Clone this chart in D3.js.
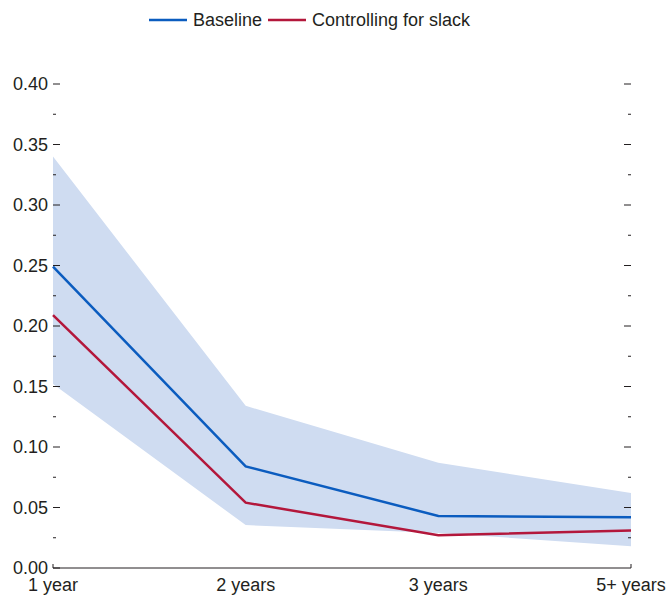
<!DOCTYPE html>
<html>
<head>
<meta charset="utf-8">
<script src="https://cdn.jsdelivr.net/npm/d3@7"></script>
<style>
  body { margin: 0; background: #fff; }
  text { font-family: "Liberation Sans Narrow", "Arial Narrow", sans-serif; fill: #231f20; }
</style>
</head>
<body>
<svg id="chart"></svg>
<script>
var width = 668,
    height = 599,
    margin = {top: 84, right: 37, bottom: 31, left: 53},
    innerW = width - margin.left - margin.right,
    innerH = height - margin.top - margin.bottom;

var horizons = ['1 year', '2 years', '3 years', '5+ years'];
var baseline = [0.249, 0.084, 0.043, 0.042];
var slack = [0.209, 0.054, 0.027, 0.031];
var bandUpper = [0.340, 0.134, 0.087, 0.062];
var bandLower = [0.152, 0.0355, 0.029, 0.018];
var yTicks = [0, 0.05, 0.10, 0.15, 0.20, 0.25, 0.30, 0.35, 0.40];

var blue = '#0b5cbf',
    red = '#b3173b',
    bandColor = '#cfdcf1';

var svg = d3.select('svg#chart')
    .attr('width', width)
    .attr('height', height);

var g = svg.append('g')
    .attr('transform', 'translate(' + margin.left + ',' + margin.top + ')');

var x = d3.scalePoint()
    .domain(horizons)
    .range([0, innerW]);

var y = d3.scaleLinear()
    .domain([0, 0.40])
    .range([innerH, 0]);

// confidence band
var area = d3.area()
    .x(function(d, i) { return x(horizons[i]); })
    .y0(function(d, i) { return y(bandLower[i]); })
    .y1(function(d) { return y(d); });

g.append('path')
    .datum(bandUpper)
    .attr('d', area)
    .attr('fill', bandColor);

// lines
var line = d3.line()
    .x(function(d, i) { return x(horizons[i]); })
    .y(function(d) { return y(d); });

[[baseline, blue], [slack, red]].forEach(function(s) {
    g.append('path')
        .datum(s[0])
        .attr('d', line)
        .attr('fill', 'none')
        .attr('stroke', s[1])
        .attr('stroke-width', 2.5);
});

// left ticks and labels
var minorTicks = d3.range(0.025, 0.40, 0.05);

g.selectAll('.major-l')
    .data(yTicks)
    .enter().append('line')
    .attr('x1', 0).attr('x2', 7)
    .attr('y1', function(d) { return y(d); })
    .attr('y2', function(d) { return y(d); })
    .attr('stroke', '#231f20')
    .attr('stroke-width', 1);

g.selectAll('.minor-l')
    .data(minorTicks)
    .enter().append('line')
    .attr('x1', 0).attr('x2', 3)
    .attr('y1', function(d) { return y(d); })
    .attr('y2', function(d) { return y(d); })
    .attr('stroke', '#231f20')
    .attr('stroke-width', 1);

g.selectAll('.major-r')
    .data(yTicks.slice(1))
    .enter().append('line')
    .attr('x1', innerW - 7).attr('x2', innerW)
    .attr('y1', function(d) { return y(d); })
    .attr('y2', function(d) { return y(d); })
    .attr('stroke', '#231f20')
    .attr('stroke-width', 1);

g.selectAll('.minor-r')
    .data(minorTicks)
    .enter().append('line')
    .attr('x1', innerW - 3).attr('x2', innerW)
    .attr('y1', function(d) { return y(d); })
    .attr('y2', function(d) { return y(d); })
    .attr('stroke', '#231f20')
    .attr('stroke-width', 1);

g.selectAll('.ylabel')
    .data(yTicks)
    .enter().append('text')
    .attr('x', -5)
    .attr('y', function(d) { return y(d); })
    .attr('dy', '0.35em')
    .attr('text-anchor', 'end')
    .attr('font-size', 18)
    .text(function(d) { return d3.format('.2f')(d); });

// x axis line with end ticks
g.append('path')
    .attr('d', 'M0,' + (innerH - 4) + 'V' + innerH + 'H' + innerW + 'V' + (innerH - 4))
    .attr('fill', 'none')
    .attr('stroke', '#231f20')
    .attr('stroke-width', 1);

g.selectAll('.xlabel')
    .data(horizons)
    .enter().append('text')
    .attr('x', function(d) { return x(d); })
    .attr('y', innerH + 23)
    .attr('text-anchor', 'middle')
    .attr('font-size', 18)
    .text(function(d) { return d; });

// legend
var legend = [['Baseline', blue, 149], ['Controlling for slack', red, 268]];
legend.forEach(function(l) {
    svg.append('line')
        .attr('x1', l[2]).attr('x2', l[2] + 38)
        .attr('y1', 20).attr('y2', 20)
        .attr('stroke', l[1])
        .attr('stroke-width', 2.5);
    svg.append('text')
        .attr('x', l[2] + 44)
        .attr('y', 20)
        .attr('dy', '0.35em')
        .attr('font-size', 18)
        .text(l[0]);
});
</script>
</body>
</html>
